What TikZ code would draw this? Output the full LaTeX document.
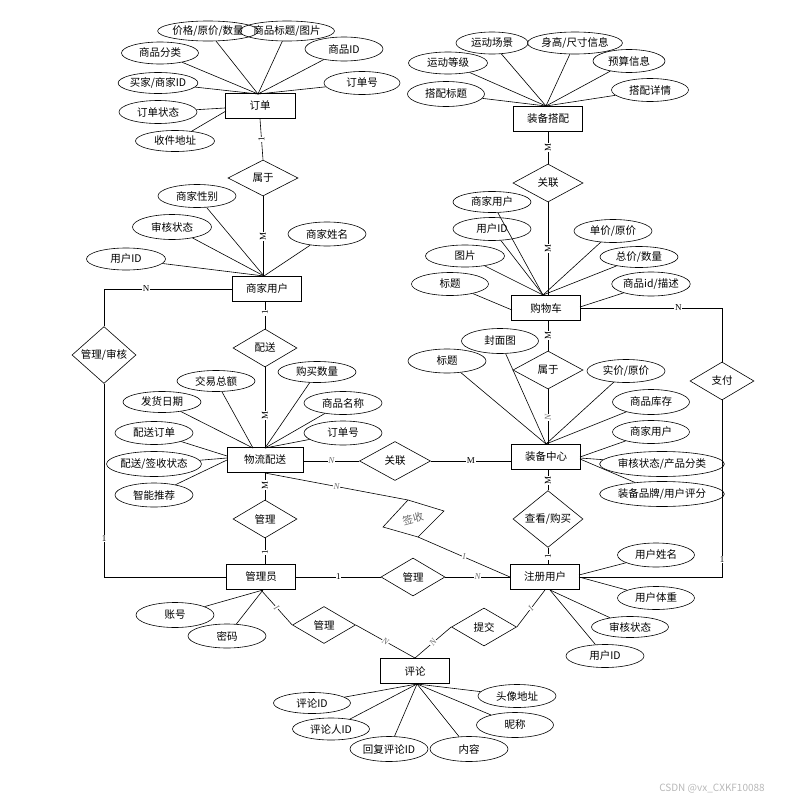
\documentclass[tikz,border=0pt]{standalone}
\usepackage{fontspec}
\setmainfont{Noto Sans CJK SC}
\newfontfamily\labfont{Liberation Serif}
\usetikzlibrary{shapes.geometric}
\begin{document}
\begin{tikzpicture}[x=1pt,y=-1pt,line width=0.6pt,
  txt/.style={font=\fontsize{10.5}{12}\selectfont},
  ent/.style={txt,draw,line width=1pt,rectangle,minimum width=69pt,minimum height=25pt,inner sep=0pt},
  attr/.style={txt,draw,ellipse,minimum width=78pt,minimum height=23pt,inner sep=0pt},
  rel/.style={txt,draw,diamond,minimum width=64pt,minimum height=38pt,inner sep=0pt},
  card/.style={fill=white,inner sep=0.6pt,font=\labfont\fontsize{9}{10}\selectfont},
  cardv/.style={card,rotate=90},
  cardg/.style={fill=white,inner sep=0.6pt,text=black!55,font=\labfont\itshape\fontsize{9}{10}\selectfont},
]
\useasboundingbox (0,0) rectangle (807,806);

% ---------- entities ----------
\node[ent,minimum width=70pt] (dd) at (260,106) {订单};
\node[ent] (zbdp) at (548,119) {装备搭配};
\node[ent] (sjyh) at (267,289) {商家用户};
\node[ent] (gwc) at (546,308) {购物车};
\node[ent,minimum width=76pt] (wlps) at (265,460) {物流配送};
\node[ent] (zbzx) at (546,457) {装备中心};
\node[ent] (gly) at (261,577) {管理员};
\node[ent] (zcyh) at (545,577) {注册用户};
\node[ent] (pl) at (415,671) {评论};

% ---------- relationships ----------
\node[rel,minimum width=70pt,minimum height=36pt] (r1) at (263,178) {属于};
\node[rel,minimum width=70pt] (r2) at (548,183) {关联};
\node[rel] (r3) at (265,348) {配送};
\node[rel] (r4) at (104,355) {管理/审核};
\node[rel,minimum width=70pt] (r5) at (548,370) {属于};
\node[rel,minimum width=71pt,minimum height=39pt] (r6) at (395,461) {关联};
\node[rel] (r7) at (722,381) {支付};
\node[rel] (r8) at (265,519) {管理};
\node[rel,minimum width=70pt] (r9) at (548,519) {查看/购买};
\node[rel] (r10) at (413,577) {管理};
\node[rel,minimum width=63pt,minimum height=37pt] (r11) at (324,625) {管理};
\node[rel,minimum width=65pt] (r12) at (484,627) {提交};

% rotated 签收
\coordinate (qT) at (408,500);
\coordinate (qR) at (444,511);
\coordinate (qB) at (418,537);
\coordinate (qL) at (383,527);
\draw (qT) -- (qR) -- (qB) -- (qL) -- cycle;
\node[txt,rotate=15,text=black!60,inner sep=0pt] (qs) at (413,519) {签收};

% ---------- attributes of 订单 ----------
\node[attr,minimum width=76pt,minimum height=20pt] (a11) at (208,31) {价格/原价/数量};
\node[attr,minimum width=79pt,minimum height=20pt] (a12) at (287,31) {商品标题/图片};
\node[attr,minimum width=77pt,minimum height=22pt] (a13) at (160,53) {商品分类};
\node[attr,minimum height=24pt] (a14) at (344,49) {商品ID};
\node[attr,minimum height=21pt] (a15) at (158,83) {买家/商家ID};
\node[attr,minimum width=76pt] (a16) at (362,83) {订单号};
\node[attr] (a17) at (158,112) {订单状态};
\node[attr,minimum width=79pt,minimum height=21pt] (a18) at (175,141) {收件地址};
\coordinate (p1) at (258,94);
\coordinate (p1a) at (225,108);
\coordinate (p1b) at (226,111);
\foreach \n in {a11,a12,a13,a14,a15,a16} \draw (\n) -- (p1);
\draw (a17) -- (p1a);
\draw (a18) -- (p1b);

% ---------- attributes of 装备搭配 ----------
\node[attr,minimum width=72pt,minimum height=22pt] (b1) at (492,43) {运动场景};
\node[attr,minimum width=76pt,minimum height=22pt] (b2) at (575,43) {身高/尺寸信息};
\node[attr,minimum width=79pt,minimum height=22pt] (b3) at (448,63) {运动等级};
\node[attr,minimum width=72pt] (b4) at (629,61) {预算信息};
\node[attr,minimum width=77pt,minimum height=25pt] (b5) at (446,94) {搭配标题};
\node[attr,minimum width=77pt] (b6) at (650,90) {搭配详情};
\coordinate (p2) at (546,106);
\foreach \n in {b1,b2,b3,b4,b5,b6} \draw (\n) -- (p2);

% ---------- attributes of 商家用户 ----------
\node[attr] (c1) at (197,196) {商家性别};
\node[attr,minimum width=79pt,minimum height=25pt] (c2) at (172,227) {审核状态};
\node[attr,minimum width=79pt,minimum height=22pt] (c3) at (126,259) {用户ID};
\node[attr,minimum height=24pt] (c4) at (327,234) {商家姓名};
\coordinate (p3) at (264,276);
\foreach \n in {c1,c2,c3,c4} \draw (\n) -- (p3);

% ---------- attributes of 购物车 ----------
\node[attr,minimum height=21pt] (d1) at (492,202) {商家用户};
\node[attr] (d2) at (492,229) {用户ID};
\node[attr,minimum width=79pt,minimum height=22pt] (d3) at (465,256) {图片};
\node[attr,minimum width=77pt] (d4) at (450,284) {标题};
\node[attr] (d5) at (613,231) {单价/原价};
\node[attr,minimum height=21pt] (d6) at (639,257) {总价/数量};
\node[attr,minimum height=24pt] (d7) at (651,284) {商品id/描述};
\coordinate (p4) at (543,295);
\coordinate (p4a) at (512,310);
\coordinate (p4b) at (580,307);
\foreach \n in {d1,d2,d3,d5,d6} \draw (\n) -- (p4);
\draw (d4) -- (p4a);
\draw (d7) -- (p4b);

% ---------- attributes of 物流配送 ----------
\node[attr,minimum height=21pt] (e1) at (216,381) {交易总额};
\node[attr,minimum height=21pt] (e2) at (317,372) {购买数量};
\node[attr,minimum height=21pt] (e3) at (162,402) {发货日期};
\node[attr] (e4) at (343,403) {商品名称};
\node[attr] (e5) at (154,433) {配送订单};
\node[attr,minimum height=24pt] (e6) at (343,433) {订单号};
\node[attr,minimum height=25pt] (e7) at (154,464) {配送/签收状态};
\node[attr,minimum height=24pt] (e8) at (154,495) {智能推荐};
\coordinate (p5a) at (253,448);
\coordinate (p5b) at (265,448);
\coordinate (p5c) at (227,456);
\coordinate (p5d) at (227,458);
\coordinate (p5e) at (227,460);
\draw (e1) -- (p5a);
\draw (e3) -- (p5a);
\foreach \n in {e2,e4,e6} \draw (\n) -- (p5b);
\draw (e5) -- (p5c);
\draw (e7) -- (p5d);
\draw (e8) -- (p5e);

% ---------- attributes of 装备中心 ----------
\node[attr,minimum width=77pt,minimum height=25pt] (f1) at (500,341) {封面图};
\node[attr,minimum height=24pt] (f2) at (447,361) {标题};
\node[attr] (f3) at (626,371) {实价/原价};
\node[attr,minimum width=77pt,minimum height=25pt] (f4) at (651,402) {商品库存};
\node[attr,minimum width=77pt] (f5) at (651,432) {商家用户};
\node[attr,minimum width=100pt,minimum height=25pt] (f6) at (662,464) {审核状态/产品分类};
\node[attr,minimum width=100pt,minimum height=25pt] (f7) at (662,494) {装备品牌/用户评分};
\coordinate (p6) at (546,444);
\coordinate (p6a) at (580,457);
\coordinate (p6b) at (580,458);
\coordinate (p6c) at (580,459);
\foreach \n in {f1,f2,f3,f4} \draw (\n) -- (p6);
\draw (f5) -- (p6a);
\draw (f6) -- (p6b);
\draw (f7) -- (p6c);

% ---------- attributes of 管理员 ----------
\node[attr,minimum height=25pt] (g1) at (175,615) {账号};
\node[attr,minimum height=24pt] (g2) at (227,636) {密码};
\coordinate (p7) at (263,590);
\draw (g1) -- (p7);
\draw (g2) -- (p7);

% ---------- attributes of 注册用户 ----------
\node[attr,minimum width=77pt,minimum height=24pt] (h1) at (656,555) {用户姓名};
\node[attr,minimum width=77pt] (h2) at (656,598) {用户体重};
\node[attr,minimum width=77pt,minimum height=21pt] (h3) at (630,627) {审核状态};
\node[attr] (h4) at (605,656) {用户ID};
\coordinate (p8a) at (579,575);
\coordinate (p8b) at (579,577);
\coordinate (p8c) at (550,590);
\draw (h1) -- (p8a);
\draw (h2) -- (p8b);
\draw (h3) -- (p8c);
\draw (h4) -- (p8c);

% ---------- attributes of 评论 ----------
\node[attr,minimum width=77pt,minimum height=21pt] (i1) at (312,703) {评论ID};
\node[attr,minimum width=77pt,minimum height=22pt] (i2) at (331,729) {评论人ID};
\node[attr,minimum height=25pt] (i3) at (389,749) {回复评论ID};
\node[attr,minimum height=25pt] (i4) at (469,749) {内容};
\node[attr] (i5) at (517,696) {头像地址};
\node[attr,minimum width=77pt,minimum height=25pt] (i6) at (515,725) {昵称};
\coordinate (p9) at (417,684);
\foreach \n in {i1,i2,i3,i4,i5,i6} \draw (\n) -- (p9);

% ---------- relationship connectors ----------
\draw (dd.south) -- node[cardv]{1} (r1.north);
\draw (r1.south) -- node[cardv]{M} (r1.south |- sjyh.north);
\draw (zbdp.south) -- node[cardv]{M} (r2.north);
\draw (r2.south) -- node[cardv]{M} (r2.south |- gwc.north);
\draw (r3.north |- sjyh.south) -- node[cardv,pos=0.4]{1} (r3.north);
\draw (r3.south) -- node[cardv,pos=0.6]{M} (r3.south |- wlps.north);
\draw (wlps.south) -- node[cardv,pos=0.45]{M} (r8.north);
\draw (r8.south) -- node[cardv,pos=0.55]{1} (r8.south |- gly.north);
\draw (r5.north |- gwc.south) -- node[cardv]{M} (r5.north);
\draw (r5.south) -- node[cardg,rotate=90,pos=0.52]{N} (r5.south |- zbzx.north);
\draw (r9.north |- zbzx.south) -- node[cardv]{M} (r9.north);
\draw (r9.south) -- node[cardv,pos=0.55]{1} (r9.south |- zcyh.north);

\draw (r6.west -| wlps.east) -- node[cardg]{N} (r6.west);
\draw (r6.east) -- node[card]{M} (r6.east -| zbzx.west);

\draw (wlps.south) -- node[cardg]{N} (qT);
\draw (qB) -- node[cardg]{I} (zcyh.west);

\draw (gly.east) -- node[card]{1} (r10.west);
\draw (r10.east) -- node[cardg]{N} (zcyh.west);

\draw (sjyh.west) -- node[card,pos=0.67]{N} (r4.north |- sjyh.west) -- (r4.north);
\draw (r4.south) -- node[card,pos=0.8]{1} (r4.south |- gly.west) -- (gly.west);

\draw (gwc.east) -- node[card,pos=0.69]{N} (r7.north |- gwc.east) -- (r7.north);
\draw (r7.south) -- node[card,pos=0.9]{1} (r7.south |- zcyh.east) -- (zcyh.east);

\draw (gly.south) -- node[cardg,rotate=-50]{I} (r11.west);
\draw (r11.east) -- node[cardg,rotate=-30]{N} (pl.north);
\draw (zcyh.south) -- node[cardg,rotate=50]{I} (r12.east);
\draw (r12.west) -- node[cardg,rotate=50]{N} (pl.north);

% watermark
\node[text=black!28,font=\fontsize{10}{12}\selectfont] (wm) at (712,789) {CSDN @vx\_CXKF10088};
\end{tikzpicture}
\end{document}
